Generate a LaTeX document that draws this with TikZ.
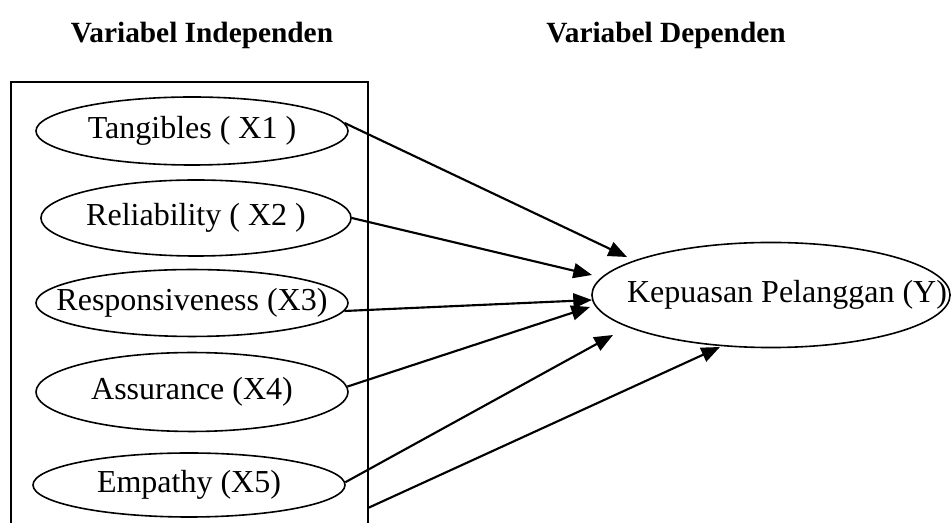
\documentclass[tikz,border=0pt]{standalone}
\usepackage{fontspec}
\setmainfont{Liberation Serif}
\usetikzlibrary{arrows.meta, shapes.geometric}

\begin{document}
\begin{tikzpicture}[
                      x=0.375pt, y=-0.375pt,
                      >={Triangle[length=7pt, width=5.6pt]},
                  ]
                  \tikzset{
                      faktor/.style = {ellipse, draw, line width=0.6pt, inner sep=0pt, font=\fontsize{12}{14}\selectfont},
                      panah/.style  = {->, line width=0.8pt},
                      judul/.style  = {font=\fontsize{11}{13}\selectfont\bfseries},
                  }
                  \useasboundingbox (0,0) rectangle (952,523);

                  % Headings
                  \node[judul] (judulx) at (202,35) {Variabel Independen};
                  \node[judul] (juduly) at (666,35) {Variabel Dependen};

                  % Box around the independent variables
                  \draw[line width=0.6pt] (11,530) |- (368,82) -- (368,530);
                  \coordinate (kotak) at (368,508);

                  % Independent variables
                  \node[faktor, minimum width=117pt, minimum height=25.5pt] (x1) at (192,131) {\makebox[0pt]{Tangibles ( X1 )}};
                  \node[faktor, minimum width=116.3pt, minimum height=28.5pt] (x2) at (196,218) {\makebox[0pt]{Reliability ( X2 )}};
                  \node[faktor, minimum width=117pt, minimum height=25.1pt] (x3) at (192,303) {\makebox[0pt]{Responsiveness (X3)}};
                  \node[faktor, minimum width=117pt, minimum height=29.6pt] (x4) at (192,392) {\makebox[0pt]{Assurance (X4)}};
                  \node[faktor, minimum width=117pt, minimum height=24pt] (x5) at (189,485) {\makebox[0pt]{Empathy (X5)}};

                  % Dependent variable
                  \node[faktor, minimum width=134.3pt, minimum height=39.4pt] (y) at (771,295) {\makebox[0pt]{\hspace{12pt}Kepuasan Pelanggan (Y)}};

                  % Arrows
                  \draw[panah] (x1.3) -- ([shift={(-144,-38)}]y.center);
                  \draw[panah] (x2.east) -- ([shift={(-179,-20)}]y.center);
                  \draw[panah] (x3.-3) -- ([shift={(-179,5)}]y.center);
                  \draw[panah] (x4.2) -- ([shift={(-181,12)}]y.center);
                  \draw[panah] (x5.1) -- ([shift={(-158,40)}]y.center);
                  \draw[panah] (kotak) -- ([shift={(-51,52)}]y.center);

              \end{tikzpicture}
\end{document}
